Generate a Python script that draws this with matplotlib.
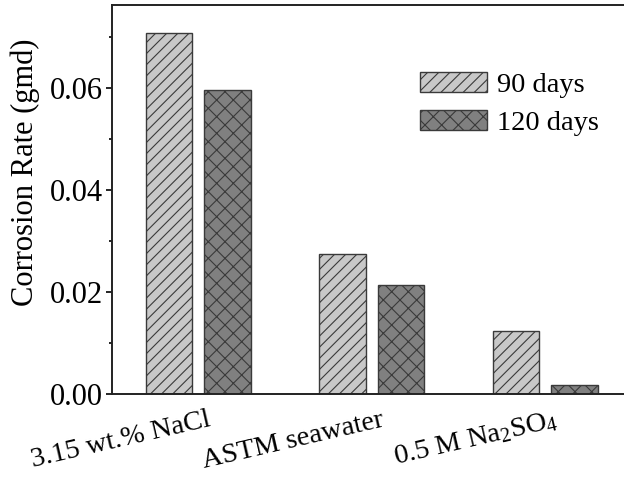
import numpy as np
import matplotlib.pyplot as plt
import matplotlib.transforms as mtransforms
from matplotlib.ticker import MultipleLocator

plt.rcParams['font.family'] = ['Liberation Serif', 'DejaVu Serif']
plt.rcParams['mathtext.fontset'] = 'custom'
plt.rcParams['mathtext.rm'] = 'Liberation Serif'
plt.rcParams['mathtext.it'] = 'Liberation Serif:italic'
plt.rcParams['hatch.color'] = '#3a3a3a'
plt.rcParams['hatch.linewidth'] = 0.8

# data
categories = ['3.15 wt.% NaCl', 'ASTM seawater', '0.5 M Na$_2$SO$_4$']
days_90 = [0.0708, 0.0273, 0.0123]
days_120 = [0.0596, 0.0214, 0.0016]
series_labels = ['90 days', '120 days']

x = np.arange(len(categories))
w = 0.27

fig = plt.figure(figsize=(6.24, 4.8), dpi=100)
ax = fig.add_axes([0.18, 0.18, 0.86, 0.81])

ax.bar(x - 0.167, days_90, w, color='#c8c8c8', edgecolor='#3a3a3a',
       linewidth=1, hatch='///', label=series_labels[0])
ax.bar(x + 0.170, days_120, w, color='#808080', edgecolor='#3a3a3a',
       linewidth=1, hatch='xx', label=series_labels[1])

ax.set_xlim(-0.494, 2.60)
ax.set_ylim(0, 0.0763)
ax.yaxis.set_major_locator(MultipleLocator(0.02))
ax.yaxis.set_minor_locator(MultipleLocator(0.01))
ax.yaxis.set_major_formatter(plt.FuncFormatter(lambda v, p: f'{v:.2f}'))
ax.tick_params(axis='y', which='major', direction='out', length=4, width=1.2,
               labelsize=22, pad=2.5)
ax.tick_params(axis='y', which='minor', direction='out', length=2.2, width=1.2)
ax.set_xticks(x)
ax.set_xticklabels(categories, rotation=13, fontsize=20.5, ha='right')
ax.tick_params(axis='x', length=0, pad=10)
shift = mtransforms.ScaledTranslation(0.15, 0, fig.dpi_scale_trans)
for lab in ax.get_xticklabels():
    lab.set_transform(lab.get_transform() + shift)

for s in ax.spines.values():
    s.set_linewidth(1.4)
    s.set_color('#222222')
ax.spines['right'].set_visible(False)

ax.set_ylabel('Corrosion Rate (gmd)', fontsize=22)
ax.yaxis.set_label_coords(-0.134, 0.57)

ax.legend(loc='upper left', bbox_to_anchor=(0.574, 0.826), frameon=False,
          fontsize=20.5, handlelength=2.35, handleheight=0.7, handletextpad=0.35,
          labelspacing=0.4, borderaxespad=0, borderpad=0)

fig.savefig('out.png', dpi=100)
